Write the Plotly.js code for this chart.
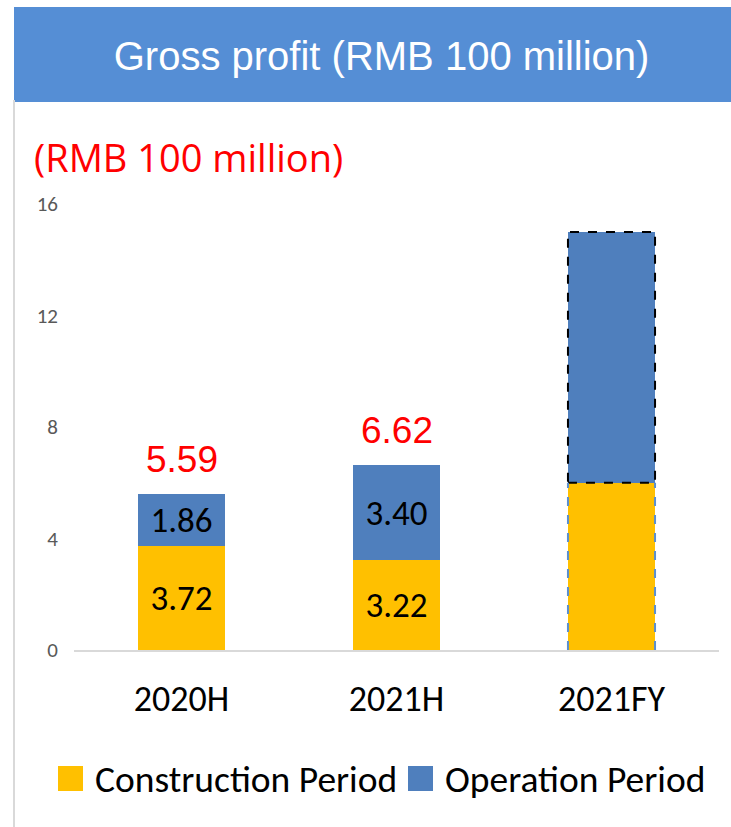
<!DOCTYPE html>
<html>
<head>
<meta charset="utf-8">
<script src="https://cdn.plot.ly/plotly-3.0.1.min.js"></script>
<style>html,body{margin:0;padding:0;background:#fff;}#chart{width:731px;height:827px;}</style>
</head>
<body>
<div id="chart"></div>
<script>
// ---- data ----
const categories = ['2020H', '2021H', '2021FY'];
const construction = [3.72, 3.22, 6.0];
const operation = [1.86, 3.40, 9.0];
const totals = [5.59, 6.62, null];
const constructionLabels = ['3.72', '3.22', ''];
const operationLabels = ['1.86', '3.40', ''];
const yTickVals = [0, 4, 8, 12, 16];
const seriesNames = ['Construction Period', 'Operation Period'];
const chartTitle = 'Gross profit (RMB 100 million)';
const unitLabel = '(RMB 100 million)';

// ---- style ----
const W = 731, H = 827;
const M = {l: 74, r: 12, t: 204, b: 177};
const plotW = W - M.l - M.r, plotH = H - M.t - M.b;
const px2x = p => (p - M.l) / plotW;
const py2y = p => (H - M.b - p) / plotH;
const YELLOW = '#FFC000', BLUE = '#4F7FBD', HEADER = '#558ED5';
const CAL = 'Carlito, Lato, sans-serif';
const ARIAL = '"Liberation Sans", Arial, sans-serif';
const bargap = 0.595;
const barW = 1 - bargap;

const traces = [
  {type: 'bar', name: seriesNames[0], x: categories, y: construction,
   marker: {color: YELLOW}, text: constructionLabels, textposition: 'inside',
   insidetextanchor: 'middle', textangle: 0, constraintext: 'none',
   textfont: {family: CAL, size: 35, color: '#000'}, hoverinfo: 'x+y'},
  {type: 'bar', name: seriesNames[1], x: categories, y: operation,
   marker: {color: BLUE}, text: operationLabels, textposition: 'inside',
   insidetextanchor: 'middle', textangle: 0, constraintext: 'none',
   textfont: {family: CAL, size: 35, color: '#000'}, hoverinfo: 'x+y'}
];

const annotations = [];
totals.forEach((t, i) => {
  if (t === null) return;
  annotations.push({x: categories[i], y: construction[i] + operation[i], xref: 'x', yref: 'y',
    text: t.toFixed(2), showarrow: false, yanchor: 'bottom', yshift: 12,
    font: {family: ARIAL, size: 37, color: '#FF0000'}});
});
annotations.push({xref: 'paper', yref: 'paper', x: px2x(32), y: py2y(157), xanchor: 'left', yanchor: 'middle',
  text: unitLabel, showarrow: false, font: {family: '"Open Sans", "Noto Sans", sans-serif', size: 38, color: '#FF0000'}});

// custom legend
const legendColors = [YELLOW, BLUE];
const legendX = [58, 408];
const shapes = [];
seriesNames.forEach((n, i) => {
  shapes.push({type: 'rect', xref: 'paper', yref: 'paper', x0: px2x(legendX[i]), x1: px2x(legendX[i] + 25),
    y0: py2y(791), y1: py2y(766), fillcolor: legendColors[i], line: {width: 0}});
  annotations.push({xref: 'paper', yref: 'paper', x: px2x(legendX[i] + 35), y: py2y(779), xanchor: 'left', yanchor: 'middle',
    text: n, showarrow: false, font: {family: CAL, size: 37.5, color: '#000'}});
});

// header band + left border
shapes.push({type: 'rect', xref: 'paper', yref: 'paper', x0: px2x(14), x1: px2x(W), y0: py2y(102), y1: py2y(7),
  fillcolor: HEADER, line: {width: 0}, layer: 'below'});
shapes.push({type: 'line', xref: 'paper', yref: 'paper', x0: px2x(14), x1: px2x(14), y0: py2y(100), y1: py2y(H),
  line: {color: '#D9D9D9', width: 2}});

// dashed outlines for the 2021FY forecast bar
const fy = categories.length - 1;
shapes.push({type: 'rect', xref: 'x', yref: 'y', x0: fy - barW / 2, x1: fy + barW / 2,
  y0: construction[fy], y1: construction[fy] + operation[fy], line: {color: '#000', width: 2, dash: 'dash'}});
[-1, 1].forEach(s => shapes.push({type: 'line', xref: 'x', yref: 'y', x0: fy + s * barW / 2, x1: fy + s * barW / 2,
  y0: 0, y1: construction[fy], line: {color: '#5B8FD0', width: 2, dash: 'dash'}}));

const layout = {
  width: W, height: H, margin: M, paper_bgcolor: '#fff', plot_bgcolor: '#fff',
  barmode: 'stack', bargap: bargap, showlegend: false,
  title: {text: chartTitle, xref: 'container', yref: 'container', x: 0.522, y: 1 - 56 / H,
    xanchor: 'center', yanchor: 'middle', font: {family: ARIAL, size: 40, color: '#fff'}},
  xaxis: {type: 'category', showline: true, linecolor: '#D9D9D9', linewidth: 2, showgrid: false,
    ticks: '', ticklabelstandoff: 16, tickfont: {family: CAL, size: 36, color: '#000'}, fixedrange: true},
  yaxis: {range: [0, 16], tickvals: yTickVals, showgrid: false, zeroline: false, showline: false,
    ticks: '', ticklabelstandoff: 15, tickfont: {family: CAL, size: 21, color: '#595959'}, fixedrange: true},
  annotations: annotations, shapes: shapes
};

Plotly.newPlot('chart', traces, layout, {displayModeBar: false, staticPlot: true});
</script>
</body>
</html>
